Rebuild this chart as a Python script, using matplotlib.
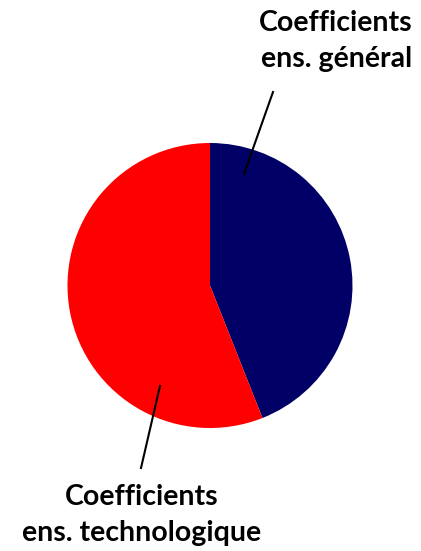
import matplotlib
matplotlib.use("Agg")
import matplotlib.pyplot as plt

# share of coefficients per teaching type
labels = ["Coefficients\nens. général", "Coefficients\nens. technologique"]
values = [44, 56]
colors = ["#000066", "#FF0000"]

W, H = 421, 551

fig = plt.figure(figsize=(W / 100, H / 100), dpi=100)
ax = fig.add_axes([0, 0, 1, 1])

# pie drawn in pixel-like coordinates (y flipped -> counterclock True gives clockwise on screen)
ax.pie(values, colors=colors, startangle=-90, counterclock=True,
       center=(210, 285.5), radius=142.5, frame=True,
       wedgeprops={"linewidth": 0})
ax.set_xlim(0, W)
ax.set_ylim(H, 0)
ax.set_aspect("equal")
ax.axis("off")

font = dict(family="Lato", weight="bold", fontsize=20.5, color="black",
            linespacing=1.5, multialignment="center")

# leader lines
ax.plot([244, 273], [174, 92], color="black", lw=1.5)
ax.plot([160, 141], [386, 468], color="black", lw=1.5)

ax.text(413, 10, labels[0], ha="right", va="top", **font)
ax.text(142, 484, labels[1], ha="center", va="top", **font)

fig.savefig("out.png", dpi=100)
